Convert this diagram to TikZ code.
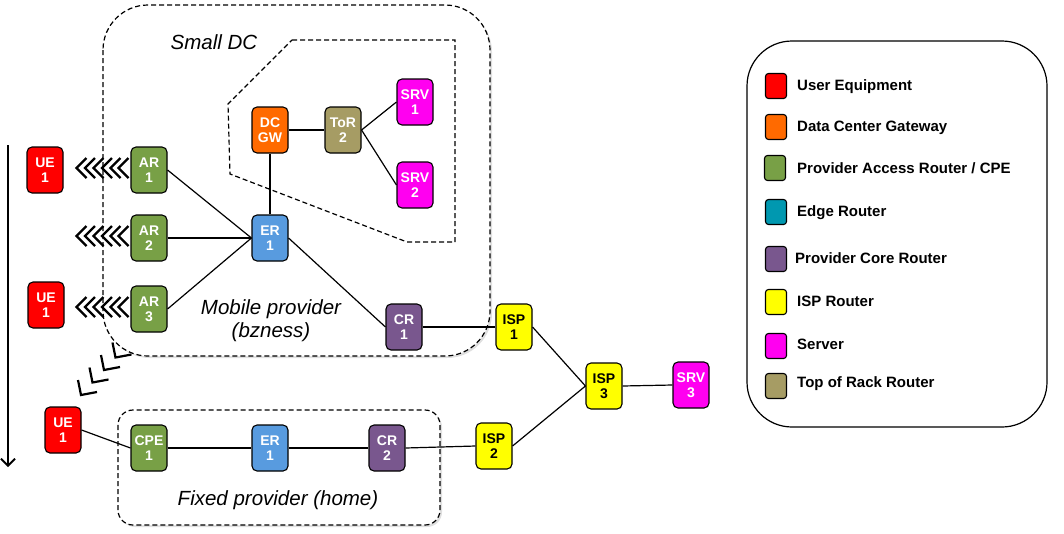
\documentclass[tikz,border=0pt]{standalone}
\usepackage{fontspec}
\setmainfont{Liberation Sans}
\usetikzlibrary{arrows.meta,shadows}
\definecolor{cue}{RGB}{255,0,0}
\definecolor{cgw}{RGB}{255,106,0}
\definecolor{car}{RGB}{120,160,70}
\definecolor{cer}{RGB}{88,155,223}
\definecolor{cedge}{RGB}{0,152,176}
\definecolor{ccr}{RGB}{121,87,142}
\definecolor{cisp}{RGB}{255,255,0}
\definecolor{csrv}{RGB}{255,0,240}
\definecolor{ctor}{RGB}{166,156,100}
\tikzset{
  dev/.style={draw=black, line width=1.1pt, rounded corners=5pt, minimum width=36pt,
    minimum height=46pt, inner sep=0pt, align=center,
    font=\fontsize{14}{15}\selectfont\bfseries, text=white},
  legsq/.style={draw=black, line width=1.1pt, rounded corners=3pt, minimum width=21pt, minimum height=25pt, inner sep=0pt},
  legtxt/.style={anchor=west, inner sep=0pt, font=\fontsize{15}{17}\selectfont\bfseries},
  link/.style={line width=1.2pt},
  box/.style={draw=black, dashed, dash pattern=on 5pt off 3pt, line width=1.2pt, fill=white,
    drop shadow={opacity=0.25, shadow xshift=2pt, shadow yshift=-2pt}},
  chev/.style={line width=2.2pt, line join=miter},
  lab/.style={font=\fontsize{20.5}{23}\selectfont\itshape, align=center, inner sep=0pt}
}
\begin{document}
\begin{tikzpicture}[x=1pt,y=-1pt]
\useasboundingbox (0,0) rectangle (1064,533);
% containers
\draw[box, rounded corners=45pt] (103,5) rectangle (490,356);
\draw[box, rounded corners=15pt] (118,410) rectangle (440,525);
\draw[dashed, dash pattern=on 5pt off 3pt, line width=1.2pt] (292,40) -- (455,40) -- (455,242) -- (407,242) -- (230,174) -- (228,104) -- cycle;
\draw[line width=1.2pt, rounded corners=45pt] (747,41) rectangle (1047,427);
% labels
\node[lab] (smalldc) at (214,42) {Small DC};
\node[lab] (mobile) at (271,321) {Mobile provider\\(bzness)};
\node[lab] (fixed) at (278,500) {Fixed provider (home)};
% nodes
\node[dev, fill=cue] (ue1) at (45,170) {UE\\1};
\node[dev, fill=cue] (ue2) at (46,305) {UE\\1};
\node[dev, fill=cue] (ue3) at (63,430) {UE\\1};
\node[dev, fill=car] (ar1) at (149,170) {AR\\1};
\node[dev, fill=car] (ar2) at (149,238) {AR\\2};
\node[dev, fill=car] (ar3) at (149,309) {AR\\3};
\node[dev, fill=cgw] (dcgw) at (270,130) {DC\\GW};
\node[dev, fill=ctor] (tor) at (343,130) {ToR\\2};
\node[dev, fill=csrv] (srv1) at (415,102) {SRV\\1};
\node[dev, fill=csrv] (srv2) at (415,185) {SRV\\2};
\node[dev, fill=cer] (er1) at (270,238) {ER\\1};
\node[dev, fill=ccr] (cr1) at (404,327) {CR\\1};
\node[dev, fill=cisp, text=black] (isp1) at (514,327) {ISP\\1};
\node[dev, fill=cisp, text=black] (isp3) at (604,386) {ISP\\3};
\node[dev, fill=csrv] (srv3) at (691,385) {SRV\\3};
\node[dev, fill=cisp, text=black] (isp2) at (494,446) {ISP\\2};
\node[dev, fill=car] (cpe) at (149,448) {CPE\\1};
\node[dev, fill=cer] (er2) at (270,448) {ER\\1};
\node[dev, fill=ccr] (cr2) at (387,448) {CR\\2};
% links
\draw[link] (ar1.east) -- (er1.west);
\draw[link] (ar2.east) -- (er1.west);
\draw[link] (ar3.east) -- (er1.west);
\draw[link] (er1.north) -- (dcgw.south);
\draw[link] (dcgw.east) -- (tor.west);
\draw[link] (tor.east) -- (srv1.west);
\draw[link] (tor.east) -- (srv2.west);
\draw[link] (er1.east) -- (cr1.west);
\draw[link] (cr1.east) -- (isp1.west);
\draw[link] (isp1.east) -- (isp3.west);
\draw[link] (isp2.east) -- (isp3.west);
\draw[link] (isp3.east) -- (srv3.west);
\draw[link] (ue3.east) -- (cpe.west);
\draw[link] (cpe.east) -- (er2.west);
\draw[link] (er2.east) -- (cr2.west);
\draw[link] (cr2.east) -- (isp2.west);
% chevrons
\foreach \yy in {168,236,307}{
  \foreach \t in {76.5,85,93.5,102,110.5,118.5}{
    \draw[chev] (\t+10,\yy-10) -- (\t,\yy) -- (\t+10,\yy+10);
  }
}
\foreach \k in {0,1,2,3}{
  \draw[chev] ({81+11.5*\k-3},{395-12.5*\k-15}) -- ({81+11.5*\k},{395-12.5*\k}) -- ({81+11.5*\k+16},{395-12.5*\k-3});
}
% time arrow
\coordinate (tstart) at (8,145);
\coordinate (tend) at (8,467);
\draw[line width=1.8pt, -{Straight Barb[length=7pt,width=14pt]}] (tstart) -- (tend);
% legend
\node[legsq, fill=cue] (l1) at (776,86) {};
\node[legtxt] (t1) at (797,87) {User Equipment};
\node[legsq, fill=cgw] (l2) at (776,127) {};
\node[legtxt] (t2) at (797,128) {Data Center Gateway};
\node[legsq, fill=car] (l3) at (775,168) {};
\node[legtxt] (t3) at (797,168) {Provider Access Router / CPE};
\node[legsq, fill=cedge] (l4) at (776,212) {};
\node[legtxt] (t4) at (797,213) {Edge Router};
\node[legsq, fill=ccr] (l5) at (776,259) {};
\node[legtxt] (t5) at (795,258) {Provider Core Router};
\node[legsq, fill=cisp] (l6) at (776,302) {};
\node[legtxt] (t6) at (797,301) {ISP Router};
\node[legsq, fill=csrv] (l7) at (776,346) {};
\node[legtxt] (t7) at (797,344) {Server};
\node[legsq, fill=ctor] (l8) at (776,386) {};
\node[legtxt] (t8) at (797,384) {Top of Rack Router};
\end{tikzpicture}
\end{document}
